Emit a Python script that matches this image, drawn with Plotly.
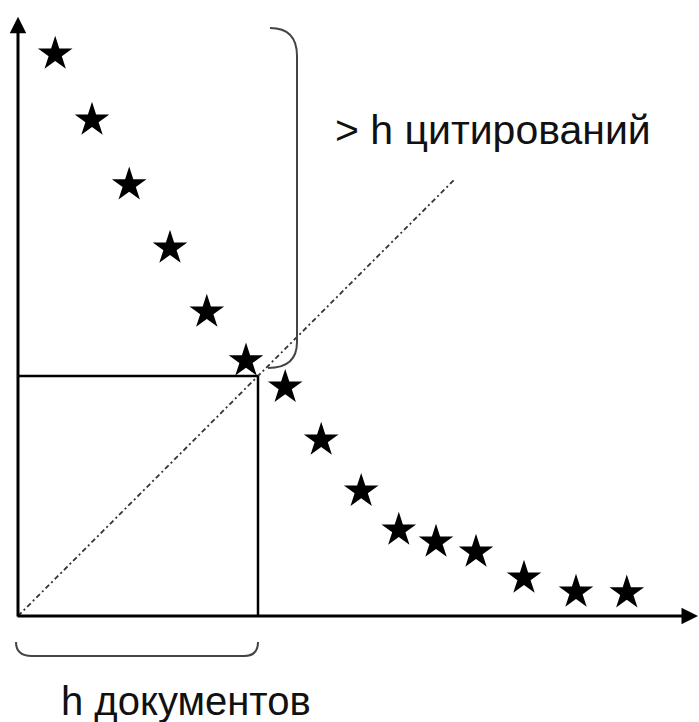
import plotly.graph_objects as go

# Citations per document, documents ranked by citation count
doc_rank = [0.93, 1.85, 2.78, 3.8, 4.72, 5.7, 6.68, 7.58, 8.58, 9.52, 10.45, 11.45, 12.65, 13.95, 15.22]
citations = [14.05, 12.4, 10.78, 9.2, 7.6, 6.38, 5.72, 4.4, 3.12, 2.15, 1.85, 1.6, 0.95, 0.6, 0.58]

# h-index threshold and axis extents
h_value = 6.0
x_axis_end = 17.0
y_axis_end = 14.98
diag_end = 10.9

label_citations = "> h цитирований"
label_documents = "h документов"

fig = go.Figure()

fig.add_trace(go.Scatter(
    x=doc_rank, y=citations, mode="markers",
    marker=dict(symbol="star", size=26, color="black", line=dict(width=0)),
    hoverinfo="skip", showlegend=False,
))

shapes = []
# diagonal y = x
shapes.append(dict(type="line", x0=0, y0=0, x1=diag_end, y1=diag_end,
                   line=dict(color="#333333", width=1.8, dash="5px,3px,2px,3px")))
# h x h square
shapes.append(dict(type="line", x0=0, y0=h_value, x1=h_value, y1=h_value,
                   line=dict(color="black", width=2.5)))
shapes.append(dict(type="line", x0=h_value, y0=h_value, x1=h_value, y1=0,
                   line=dict(color="black", width=2.5)))

# right bracket over the documents with more than h citations
bx = h_value + 0.975
btop = citations[0] + 0.65
bbot = h_value + 0.2
shapes.append(dict(
    type="path",
    path=(f"M {h_value + 0.3},{btop} Q {bx},{btop} {bx},{btop - 0.7} "
          f"L {bx},{bbot + 0.65} Q {bx},{bbot} {h_value + 0.25},{bbot}"),
    line=dict(color="#444444", width=2),
))
# bottom brace under the first h documents
ly = -1.0
shapes.append(dict(
    type="path",
    path=(f"M -0.05,{ly + 0.35} Q -0.05,{ly} 0.35,{ly} "
          f"L {h_value - 0.35},{ly} Q {h_value},{ly} {h_value},{ly + 0.35}"),
    line=dict(color="#444444", width=2),
))

annotations = [
    # axes with arrowheads
    dict(x=x_axis_end, y=0, ax=-0.05, ay=0, xref="x", yref="y", axref="x", ayref="y",
         text="", showarrow=True, arrowhead=2, arrowsize=1.1, arrowwidth=3, arrowcolor="black"),
    dict(x=0, y=y_axis_end, ax=0, ay=-0.05, xref="x", yref="y", axref="x", ayref="y",
         text="", showarrow=True, arrowhead=2, arrowsize=1.1, arrowwidth=3, arrowcolor="black"),
    dict(x=7.88, y=12.15, xref="x", yref="y", text=label_citations, showarrow=False,
         xanchor="left", yanchor="middle",
         font=dict(family="Liberation Sans, Arial", size=41, color="#111111")),
    dict(x=4.2, y=-2.12, xref="x", yref="y", text=label_documents, showarrow=False,
         xanchor="center", yanchor="middle",
         font=dict(family="Liberation Sans, Arial", size=40, color="#111111")),
]

fig.update_layout(
    width=699, height=722,
    margin=dict(l=0, r=0, t=0, b=0),
    paper_bgcolor="white", plot_bgcolor="white",
    xaxis=dict(range=[-0.45, 17.025], visible=False, fixedrange=True),
    yaxis=dict(range=[-2.65, 15.4], visible=False, fixedrange=True),
    shapes=shapes, annotations=annotations,
    showlegend=False,
)

fig.write_html("out.html")
